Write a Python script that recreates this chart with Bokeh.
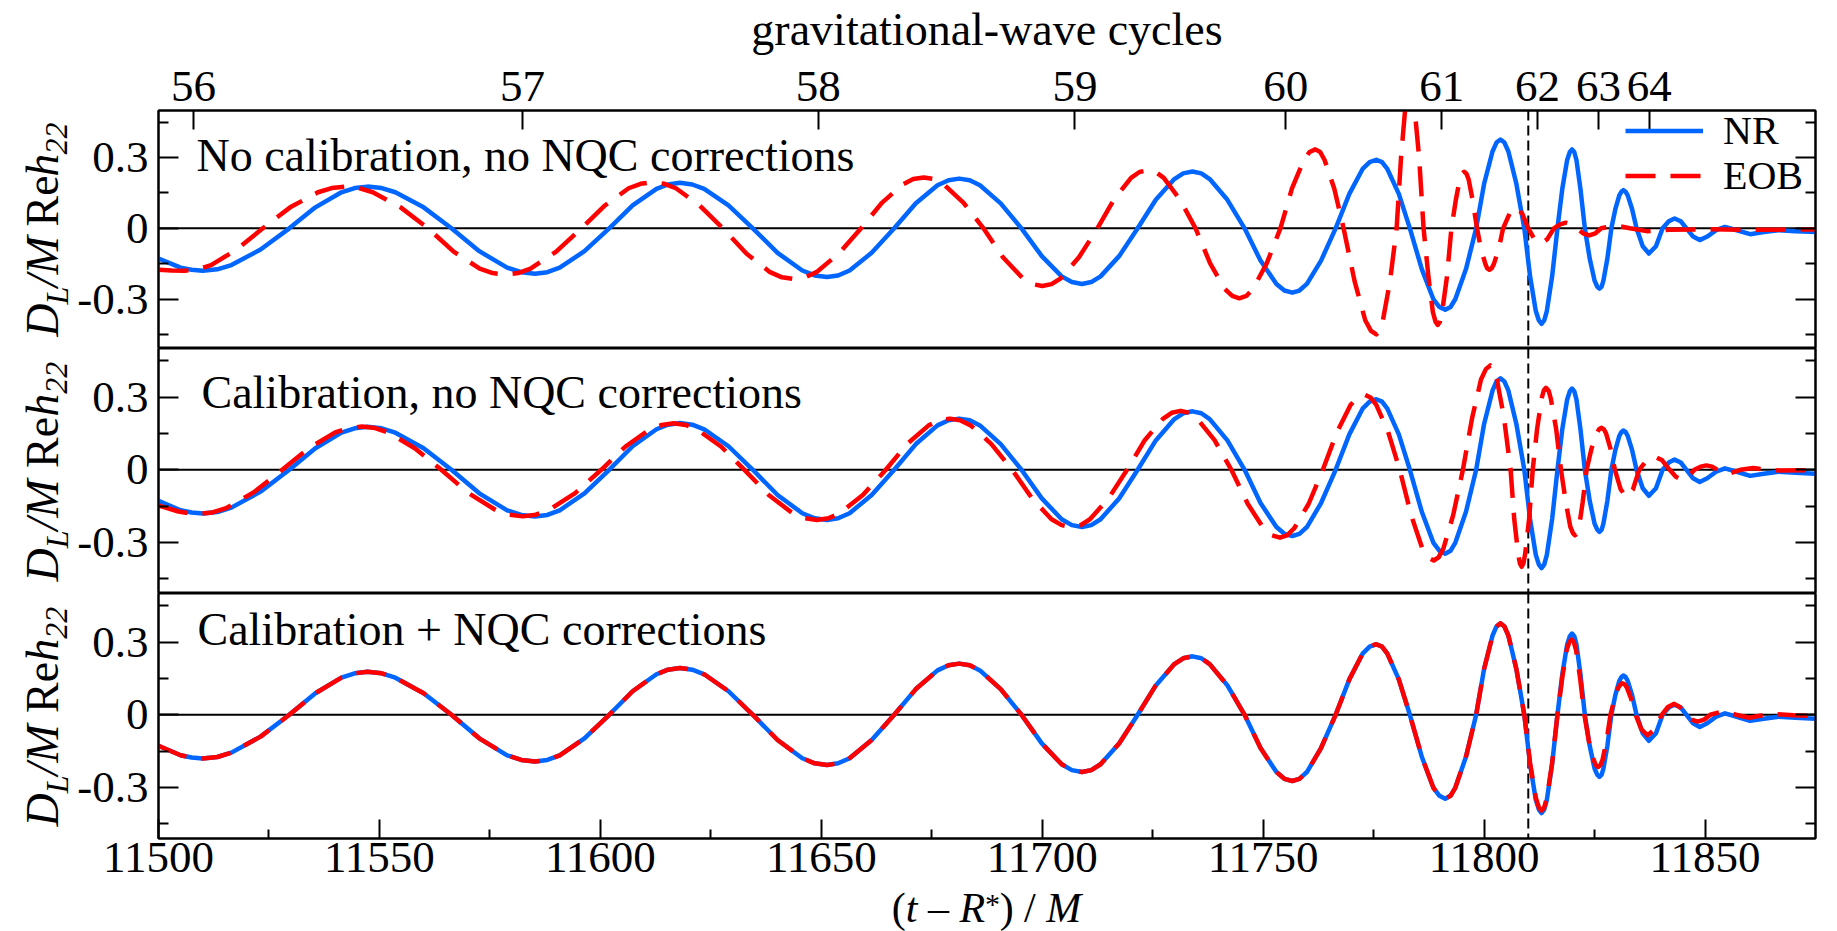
import math
from bokeh.plotting import figure
from bokeh.layouts import column, row
from bokeh.models import (Range1d, LinearAxis, FixedTicker, CustomJSTickFormatter,
                          Span, Label, Legend, LegendItem)
from bokeh.embed import file_html
from bokeh.resources import INLINE

# ---------------- data ----------------
nr_t = [11500, 11505, 11507.5, 11510, 11513.3, 11516.5, 11523.1, 11529.6,
        11535.5, 11541.4, 11544.4, 11547.3, 11550.5, 11553.6, 11560, 11566.3,
        11572.6, 11578.9, 11582.1, 11585.2, 11588, 11590.8, 11596.4, 11602,
        11607.3, 11612.7, 11615.3, 11618, 11620.8, 11623.5, 11629, 11634.5,
        11640.1, 11645.7, 11648.5, 11651.3, 11653.8, 11656.4, 11661.4, 11666.5,
        11671.4, 11676.3, 11678.8, 11681.2, 11683.6, 11685.9, 11690.6, 11695.3,
        11699.9, 11704.4, 11706.7, 11709, 11711.1, 11713.2, 11717.4, 11721.6,
        11725.7, 11729.9, 11731.9, 11734, 11736, 11737.9, 11741.9, 11745.8,
        11749.4, 11753, 11754.8, 11756.6, 11758.2, 11759.9, 11763.1, 11766.4,
        11769.5, 11772.5, 11774.1, 11775.6, 11776.9, 11778.1, 11780.7, 11783.2,
        11785.9, 11788.5, 11789.9, 11791.2, 11792.4, 11793.5, 11795.9, 11798.2,
        11800, 11801.9, 11802.8, 11803.7, 11804.6, 11805.5, 11807.3, 11809.1,
        11810.4, 11811.7, 11812.4, 11813, 11813.6, 11814.2, 11815.4, 11816.6,
        11817.7, 11818.8, 11819.4, 11819.9, 11820.4, 11820.9, 11821.8, 11822.8,
        11823.9, 11825, 11825.6, 11826.1, 11826.6, 11827, 11827.9, 11828.8,
        11829.7, 11830.6, 11831.1, 11831.5, 11832, 11832.5, 11833.5, 11834.5,
        11835.9, 11837.3, 11838.9, 11840.4, 11841.8, 11843.1, 11844.5, 11845.8,
        11847.3, 11848.8, 11850.5, 11852.5, 11854.5, 11856.8, 11860.2, 11863.3,
        11866.6, 11870.5, 11875]
nr_h = [-0.128, -0.167, -0.176, -0.18, -0.174, -0.156, -0.09, 0,
        0.089, 0.153, 0.171, 0.177, 0.171, 0.153, 0.089, 0,
        -0.097, -0.167, -0.186, -0.193, -0.186, -0.167, -0.097, 0,
        0.097, 0.167, 0.186, 0.193, 0.186, 0.167, 0.097, 0,
        -0.104, -0.179, -0.2, -0.207, -0.2, -0.179, -0.104, 0,
        0.106, 0.183, 0.204, 0.211, 0.204, 0.183, 0.106, 0,
        -0.118, -0.204, -0.228, -0.236, -0.228, -0.204, -0.118, 0,
        0.121, 0.209, 0.233, 0.241, 0.233, 0.209, 0.121, 0,
        -0.137, -0.236, -0.264, -0.273, -0.264, -0.236, -0.137, 0,
        0.146, 0.252, 0.281, 0.291, 0.281, 0.252, 0.146, 0,
        -0.173, -0.3, -0.334, -0.346, -0.334, -0.3, -0.173, 0,
        0.189, 0.326, 0.364, 0.377, 0.364, 0.326, 0.189, 0,
        -0.203, -0.351, -0.391, -0.405, -0.391, -0.351, -0.203, 0,
        0.168, 0.29, 0.324, 0.335, 0.324, 0.29, 0.168, 0,
        -0.128, -0.222, -0.247, -0.256, -0.247, -0.222, -0.128, 0,
        0.081, 0.14, 0.156, 0.162, 0.156, 0.14, 0.081, 0,
        -0.076, -0.107, -0.076, 0, 0.03, 0.042, 0.03, 0,
        -0.035, -0.05, -0.035, -0.008, 0.006, -0.006, -0.025, -0.016,
        -0.008, -0.012, -0.016]

# EOB, no calibration, no NQC corrections
eob1_t = [11500, 11503, 11506, 11508.9, 11511.9, 11517.7, 11523.6,
          11529.8, 11536.1, 11539.2, 11542.3, 11545.4, 11548.5, 11554.8, 11561,
          11566.8, 11572.7, 11575.6, 11578.5, 11581.4, 11584.2, 11590, 11595.7,
          11601.1, 11606.4, 11609.1, 11611.8, 11614.5, 11617.1, 11622.4, 11627.7,
          11633.1, 11638.4, 11641.1, 11643.8, 11646.3, 11648.9, 11653.9, 11659,
          11663.7, 11668.5, 11670.8, 11673.2, 11675.5, 11677.7, 11682.2, 11686.7,
          11691.1, 11695.6, 11697.8, 11700, 11702.1, 11704.2, 11708.3, 11712.5,
          11716.3, 11720.1, 11722, 11723.9, 11725.7, 11727.5, 11731.1, 11734.7,
          11738, 11741.3, 11743, 11744.6, 11746.2, 11747.7, 11750.8, 11753.9,
          11756.5, 11759.2, 11760.5, 11761.8, 11762.9, 11763.9, 11766.1, 11768.2,
          11770.7, 11773.1, 11774.4, 11775.6, 11776.4, 11777.1, 11778.7, 11780.2,
          11781.2, 11782.2, 11782.7, 11783.2, 11783.7, 11784.2, 11785.3, 11786.3,
          11787.4, 11788.4, 11789, 11789.5, 11790, 11790.5, 11791.6, 11792.6,
          11793.6, 11794.5, 11795, 11795.5, 11796, 11796.5, 11797.4, 11798.4,
          11799.3, 11800.3, 11800.7, 11801.2, 11801.7, 11802.2, 11803.3, 11804.3,
          11805.8, 11807.2, 11808.6, 11810, 11811.4, 11812.8, 11814.3, 11815.8,
          11817.2, 11818.5, 11819.8, 11821, 11822.4, 11823.8, 11825.2, 11826.5,
          11829.8, 11833, 11836.8, 11842, 11850, 11860, 11875]
eob1_h = [-0.176, -0.179, -0.18, -0.174, -0.156, -0.09, 0,
          0.089, 0.153, 0.171, 0.177, 0.171, 0.153, 0.089, 0,
          -0.099, -0.171, -0.19, -0.197, -0.19, -0.171, -0.099, 0,
          0.098, 0.17, 0.189, 0.196, 0.189, 0.17, 0.098, 0,
          -0.108, -0.186, -0.208, -0.215, -0.208, -0.186, -0.108, 0,
          0.108, 0.187, 0.209, 0.216, 0.209, 0.187, 0.108, 0,
          -0.123, -0.212, -0.237, -0.245, -0.237, -0.212, -0.123, 0,
          0.124, 0.214, 0.239, 0.247, 0.239, 0.214, 0.124, 0,
          -0.149, -0.257, -0.287, -0.297, -0.287, -0.257, -0.149, 0,
          0.168, 0.29, 0.324, 0.335, 0.324, 0.29, 0.168, 0,
          -0.225, -0.39, -0.435, -0.45, -0.435, -0.39, -0.225, 0,
          0.3, 0.52, 0.58, 0.6, 0.58, 0.52, 0.3, 0,
          -0.205, -0.355, -0.396, -0.41, -0.396, -0.355, -0.205, 0,
          0.12, 0.208, 0.232, 0.24, 0.232, 0.208, 0.12, 0,
          -0.088, -0.152, -0.17, -0.176, -0.17, -0.152, -0.088, 0,
          0.064, 0.09, 0.064, 0, -0.046, -0.065, -0.046, 0,
          0.017, 0.024, 0.017, 0, -0.021, -0.03, -0.021, 0,
          0.012, 0, -0.012, -0.006, -0.004, -0.006, -0.005]

# EOB, calibration, no NQC corrections
eob2_t = [11500, 11504.5, 11506.8, 11509, 11512.2, 11515.3, 11521.7, 11528,
          11534, 11540, 11543, 11546, 11549, 11552, 11558, 11564,
          11570.1, 11576.3, 11579.3, 11582.4, 11585.4, 11588.3, 11594.3, 11600.2,
          11605.7, 11611.1, 11613.9, 11616.6, 11619.3, 11621.9, 11627.3, 11632.6,
          11638.1, 11643.5, 11646.3, 11649, 11651.6, 11654.2, 11659.4, 11664.6,
          11669.4, 11674.3, 11676.7, 11679.1, 11681.4, 11683.8, 11688.5, 11693.2,
          11697.7, 11702.1, 11704.4, 11706.6, 11708.7, 11710.8, 11715, 11719.2,
          11723.2, 11727.3, 11729.3, 11731.3, 11733.2, 11735.1, 11739, 11742.8,
          11746.5, 11750.1, 11752, 11753.8, 11755.4, 11757, 11760.3, 11763.5,
          11766.7, 11769.8, 11771.4, 11773, 11774.3, 11775.6, 11778.3, 11780.9,
          11783.5, 11786, 11787.3, 11788.6, 11789.7, 11790.8, 11793, 11795.2,
          11797.3, 11799.3, 11800.4, 11801.4, 11802.2, 11802.9, 11804.5, 11806,
          11806.8, 11807.7, 11808.1, 11808.5, 11808.9, 11809.3, 11810.2, 11811,
          11812, 11813, 11813.5, 11814, 11814.6, 11815.1, 11816.3, 11817.4,
          11818.5, 11819.5, 11820.1, 11820.6, 11821, 11821.5, 11822.3, 11823.2,
          11824.3, 11825.5, 11826, 11826.6, 11827.1, 11827.6, 11828.6, 11829.6,
          11830.9, 11832.2, 11833.7, 11835.1, 11836.8, 11838.6, 11840.3, 11842,
          11843.4, 11844.8, 11846.2, 11847.6, 11849, 11850.3, 11851.6, 11852.8,
          11855.3, 11858, 11860.9, 11864, 11867, 11875]
eob2_h = [-0.147, -0.172, -0.179, -0.182, -0.176, -0.158, -0.091, 0,
          0.089, 0.154, 0.172, 0.178, 0.172, 0.154, 0.089, 0,
          -0.096, -0.166, -0.185, -0.192, -0.185, -0.166, -0.096, 0,
          0.096, 0.166, 0.185, 0.192, 0.185, 0.166, 0.096, 0,
          -0.104, -0.179, -0.2, -0.207, -0.2, -0.179, -0.104, 0,
          0.106, 0.183, 0.204, 0.211, 0.204, 0.183, 0.106, 0,
          -0.118, -0.204, -0.228, -0.236, -0.228, -0.204, -0.118, 0,
          0.122, 0.21, 0.235, 0.243, 0.235, 0.21, 0.122, 0,
          -0.14, -0.242, -0.27, -0.28, -0.27, -0.242, -0.14, 0,
          0.155, 0.268, 0.298, 0.309, 0.298, 0.268, 0.155, 0,
          -0.187, -0.324, -0.361, -0.374, -0.361, -0.324, -0.187, 0,
          0.215, 0.372, 0.415, 0.43, 0.415, 0.372, 0.215, 0,
          -0.2, -0.346, -0.386, -0.4, -0.386, -0.346, -0.2, 0,
          0.169, 0.293, 0.327, 0.338, 0.327, 0.293, 0.169, 0,
          -0.135, -0.234, -0.261, -0.27, -0.261, -0.234, -0.135, 0,
          0.087, 0.15, 0.167, 0.173, 0.167, 0.15, 0.087, 0,
          -0.08, -0.113, -0.08, 0, 0.039, 0.055, 0.039, 0,
          -0.029, -0.041, -0.029, 0, 0.013, 0.018, 0.013, 0,
          -0.017, 0, 0.007, 0, -0.003, -0.002]

# EOB, calibration + NQC corrections
eob3_t = [11500, 11505, 11507.5, 11510, 11513.3, 11516.5, 11523.1, 11529.6,
          11535.5, 11541.4, 11544.4, 11547.3, 11550.5, 11553.6, 11560, 11566.3,
          11572.6, 11578.9, 11582.1, 11585.2, 11588, 11590.8, 11596.4, 11602,
          11607.3, 11612.7, 11615.3, 11618, 11620.8, 11623.5, 11629, 11634.5,
          11640.1, 11645.7, 11648.5, 11651.3, 11653.8, 11656.4, 11661.4, 11666.5,
          11671.4, 11676.3, 11678.8, 11681.2, 11683.6, 11685.9, 11690.6, 11695.3,
          11699.9, 11704.4, 11706.7, 11709, 11711.1, 11713.2, 11717.4, 11721.6,
          11725.7, 11729.9, 11731.9, 11734, 11736, 11737.9, 11741.9, 11745.8,
          11749.4, 11753, 11754.8, 11756.6, 11758.2, 11759.9, 11763.1, 11766.4,
          11769.5, 11772.5, 11774.1, 11775.6, 11776.9, 11778.1, 11780.7, 11783.2,
          11785.9, 11788.5, 11789.9, 11791.2, 11792.4, 11793.5, 11795.9, 11798.2,
          11800, 11801.9, 11802.8, 11803.7, 11804.6, 11805.5, 11807.3, 11809.1,
          11810.4, 11811.7, 11812.4, 11813, 11813.6, 11814.2, 11815.4, 11816.6,
          11817.7, 11818.7, 11819.3, 11819.8, 11820.3, 11820.8, 11821.7, 11822.7,
          11823.7, 11824.8, 11825.3, 11825.8, 11826.3, 11826.8, 11827.7, 11828.6,
          11829.5, 11830.4, 11830.9, 11831.3, 11831.8, 11832.3, 11833.3, 11834.3,
          11835.6, 11837, 11838.6, 11840.2, 11841.6, 11843, 11844.3, 11845.6,
          11847, 11848.3, 11849.8, 11851.2, 11854.3, 11857, 11860, 11865,
          11870, 11875]
eob3_h = [-0.128, -0.167, -0.176, -0.18, -0.174, -0.156, -0.09, 0,
          0.089, 0.153, 0.171, 0.177, 0.171, 0.153, 0.089, 0,
          -0.097, -0.167, -0.186, -0.193, -0.186, -0.167, -0.097, 0,
          0.097, 0.167, 0.186, 0.193, 0.186, 0.167, 0.097, 0,
          -0.104, -0.179, -0.2, -0.207, -0.2, -0.179, -0.104, 0,
          0.106, 0.183, 0.204, 0.211, 0.204, 0.183, 0.106, 0,
          -0.118, -0.204, -0.228, -0.236, -0.228, -0.204, -0.118, 0,
          0.121, 0.209, 0.233, 0.241, 0.233, 0.209, 0.121, 0,
          -0.137, -0.236, -0.264, -0.273, -0.264, -0.236, -0.137, 0,
          0.146, 0.252, 0.281, 0.291, 0.281, 0.252, 0.146, 0,
          -0.173, -0.3, -0.334, -0.346, -0.334, -0.3, -0.173, 0,
          0.189, 0.326, 0.364, 0.377, 0.364, 0.326, 0.189, 0,
          -0.198, -0.342, -0.382, -0.395, -0.382, -0.342, -0.198, 0,
          0.155, 0.268, 0.3, 0.31, 0.3, 0.268, 0.155, 0,
          -0.108, -0.186, -0.208, -0.215, -0.208, -0.186, -0.108, 0,
          0.065, 0.113, 0.126, 0.13, 0.126, 0.113, 0.065, 0,
          -0.06, -0.085, -0.06, 0, 0.032, 0.045, 0.032, 0,
          -0.02, -0.028, -0.02, 0, 0.016, 0, -0.012, 0.004,
          -0.002, -0.005]

panel_titles = ["No calibration, no NQC corrections",
                "Calibration, no NQC corrections",
                "Calibration + NQC corrections"]
series_names = ["NR", "EOB"]
merger_t = 11810.0

cycle_labels = ["56", "57", "58", "59", "60", "61", "62", "63", "64"]
cycle_t = [11507.9, 11582.4, 11649.3, 11707.4, 11755.1, 11790.4, 11812.1, 11825.9, 11837.4]

x_major = [11500, 11550, 11600, 11650, 11700, 11750, 11800, 11850]
x_minor = [11525, 11575, 11625, 11675, 11725, 11775, 11825]
y_major = [-0.3, 0, 0.3]
y_minor = [-0.45, -0.15, 0.15, 0.45]

# ---------------- layout / style ----------------
FONT = "Liberation Serif"
BLUE = "#0066FF"
RED = "#FF0000"
X0, X1 = 11500, 11875
Y0, Y1 = -0.51, 0.5
WL = 74                 # strip holding the rotated y labels
W = 1835 - WL           # panel figure width
FRAME_L = 157           # page x of frame left edge
LEFT = FRAME_L - WL
FW = 1658
RIGHT = W - LEFT - FW
FH = 245
TOP_B, BOT_B = 103, 46
PAGE_H = 931
XT_TOP = TOP_B + 3 * FH + BOT_B
XT_H = PAGE_H - XT_TOP
frame_tops = [TOP_B + i * FH for i in range(3)]
BASE_SHIFT = 0.3375     # anchor-to-baseline offset (em) of the rendered labels


def dx(page_x):
    return X0 + (page_x - FRAME_L) * (X1 - X0) / FW


def dy(page_y, top):
    return Y1 - (page_y - top) * (Y1 - Y0) / FH


def style_axis(ax, major_in, minor_in, font_size="45px"):
    ax.axis_line_color = "black"
    ax.axis_line_width = 2
    ax.major_tick_line_color = "black"
    ax.major_tick_line_width = 2
    ax.minor_tick_line_color = "black"
    ax.minor_tick_line_width = 2
    ax.major_tick_in = major_in
    ax.major_tick_out = 0
    ax.minor_tick_in = minor_in
    ax.minor_tick_out = 0
    ax.major_label_text_font = FONT
    ax.major_label_text_font_size = font_size
    ax.major_label_text_color = "black"


def plain_fig(w, h, xrange, yrange, top_b=0, bot_b=0):
    f = figure(width=w, height=h, x_range=xrange, y_range=yrange,
               x_axis_type=None, y_axis_type=None, output_backend="svg",
               toolbar_location=None, tools="", min_border_left=0, min_border_right=0,
               min_border_top=top_b, min_border_bottom=bot_b)
    f.grid.visible = False
    f.outline_line_color = None
    f.background_fill_color = "white"
    f.border_fill_color = "white"
    return f


def add_piece(f, x, y, txt, style, size, angle=0.0, align="left"):
    f.add_layout(Label(x=x, y=y, text=txt, angle=angle, text_font=FONT, text_font_style=style,
                       text_font_size=f"{size}px", text_baseline="alphabetic",
                       text_align=align, text_color="black"))


xr = Range1d(X0, X1)
eobs = [(eob1_t, eob1_h), (eob2_t, eob2_h), (eob3_t, eob3_h)]
text_pos = [(195, 165), (200, 408), (196, 645)]
rows = []
for i in range(3):
    top_b = TOP_B if i == 0 else 0
    bot_b = BOT_B if i == 2 else 0
    H = FH + top_b + bot_b
    p = figure(width=W, height=H, x_range=xr, y_range=Range1d(Y0, Y1),
               x_axis_type=("linear" if i == 2 else None), output_backend="svg",
               toolbar_location=None, tools="", min_border_left=LEFT, min_border_right=RIGHT,
               min_border_top=top_b, min_border_bottom=bot_b)
    p.grid.visible = False
    p.outline_line_color = "black"
    p.outline_line_width = 2
    p.background_fill_color = "white"
    p.border_fill_color = "white"

    yt = FixedTicker(ticks=y_major, minor_ticks=y_minor)
    p.yaxis.ticker = yt
    p.yaxis.formatter = CustomJSTickFormatter(code="return tick == 0 ? '0' : tick.toFixed(1);")
    style_axis(p.yaxis[0], 20, 10)
    p.yaxis.major_label_standoff = 10

    ra = LinearAxis(ticker=yt, formatter=CustomJSTickFormatter(code="return '';"))
    style_axis(ra, 20, 10, "0px")
    ra.major_label_standoff = 0
    p.add_layout(ra, "right")

    top = frame_tops[i]
    p.add_layout(Span(location=0, dimension="width", line_color="black", line_width=2, level="underlay"))
    p.add_layout(Span(location=merger_t, dimension="height", line_color="black", line_width=2,
                      line_dash="10 5", level="underlay"))

    nr_r = p.line(nr_t, nr_h, line_color=BLUE, line_width=4.5, line_join="round")
    et, eh = eobs[i]
    eob_r = p.line(et, eh, line_color=RED, line_width=4.5, line_dash="30 15", line_join="round")

    tx, ty = text_pos[i]
    add_piece(p, dx(tx), dy(ty - BASE_SHIFT * 46, top), panel_titles[i], "normal", 46)

    if i == 0:
        ta = LinearAxis(ticker=FixedTicker(ticks=cycle_t, minor_ticks=[]),
                        formatter=CustomJSTickFormatter(args=dict(labels=cycle_labels),
                                                        code="return labels[index];"))
        style_axis(ta, 19, 0)
        ta.major_label_standoff = 10
        ta.axis_label = "gravitational-wave cycles"
        ta.axis_label_text_font = FONT
        ta.axis_label_text_font_size = "46px"
        ta.axis_label_text_font_style = "normal"
        ta.axis_label_text_color = "black"
        ta.axis_label_standoff = 14
        p.add_layout(ta, "above")
        row_h = 45
        fb = top + FH
        for name, rend, cy in [(series_names[0], nr_r, 131), (series_names[1], eob_r, 176)]:
            leg = Legend(items=[LegendItem(label=name, renderers=[rend])],
                         location=(1624 - FRAME_L, fb - (cy + row_h / 2)),
                         padding=0, margin=0, spacing=0, glyph_width=78, glyph_height=row_h,
                         label_height=row_h, label_standoff=20, label_text_font=FONT,
                         label_text_font_size="40px", label_text_color="black",
                         background_fill_alpha=0, border_line_alpha=0)
            p.add_layout(leg)

    if i == 2:
        p.xaxis.ticker = FixedTicker(ticks=x_major, minor_ticks=x_minor)
        style_axis(p.xaxis[0], 19, 9)
        p.xaxis.major_label_standoff = 4

    # strip with the rotated y-axis label  D_L/M Re h_22 (frame aligned with the panel frame)
    s = plain_fig(WL, H, Range1d(0, WL), Range1d(Y0, Y1), top_b, bot_b)
    ylab = [("D", "italic", 46, 0, 0.0), ("L", "italic", 32, 9, 33.2), ("/M", "italic", 46, 0, 51.0),
            ("Re", "normal", 46, 0, 113.6), ("h", "italic", 46, 0, 164.7), ("22", "italic", 32, 9, 187.7)]
    for txt, sty, size, shift, off in ylab:
        ax_x = 58 + shift - BASE_SHIFT * size
        add_piece(s, ax_x, dy(top + 233 - off, top), txt, sty, size, angle=math.pi / 2)
    rows.append(row(s, p, spacing=0))

# strip with the x-axis title  (t – R*) / M
xt = plain_fig(WL + W, XT_H, Range1d(0, WL + W), Range1d(0, XT_H))
k = 42 / 46
xlab = [("(", "normal", 42, 0, 0.0), ("t", "italic", 42, 0, 15.3 * k), ("\u2013", "normal", 42, 0, 39.6 * k),
        ("R", "italic", 42, 0, 74.1 * k), ("*", "normal", 30, 8, 102.2 * k), (")", "normal", 42, 0, 118.2 * k),
        ("/", "normal", 42, 0, 145.0 * k), ("M", "italic", 42, 0, 169.3 * k)]
sx0 = (FRAME_L + FW / 2) - 103.8 * k
base_page = 921.5
for txt, sty, size, shift, off in xlab:
    anchor_page = base_page - shift - BASE_SHIFT * size
    add_piece(xt, sx0 + off, XT_TOP + XT_H - anchor_page, txt, sty, size)

layout = column(*rows, xt, spacing=0)
open("out.html", "w").write(file_html(layout, INLINE, title="waveforms"))
